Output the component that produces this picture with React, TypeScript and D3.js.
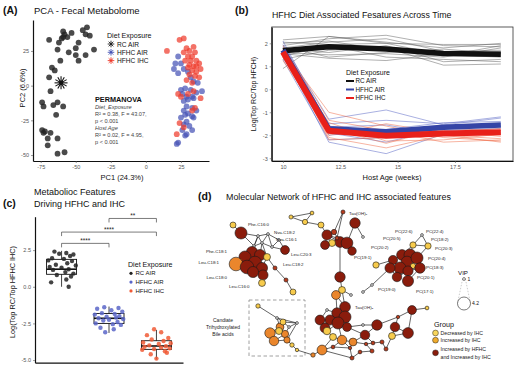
import React, { useEffect, useRef } from "react";
import * as d3 from "d3";

const FONT = "'Liberation Sans', Arial, Helvetica, sans-serif";

// ---------- (A) PCA scores ----------
const pcaRcAir = [
  [-42, 42], [-59, 39], [-58, 37], [-59, 35], [-53, 38], [-43, 37], [-40, 36], [-69, 33], [-60, 34], [-62, 31],
  [-48, 31], [-50, 27], [-37, 26], [-63, 26], [-55, 24], [-50, 22], [-43, 22], [-48, 18], [-61, 18], [-67, 13],
  [-65, 11], [-69, 6], [-68, -4], [-74, -12], [-73, -15], [-66, -14], [-63, -12], [-59, -15], [-64, -21], [-74, -32],
  [-73, -34], [-72, -33], [-68, -34], [-70, -38], [-63, -38], [-70, -43], [-63, -49], [-58, -48], [-56, 35], [-45, 40],
];
const pcaHfhcAir = [
  [23, 21], [21, 16], [25, 16], [20, 12], [23, 9], [27, 12], [30, 10], [32, 6], [34, 3], [37, 2],
  [28, -2], [25, -3], [32, -3], [26, -6], [29, -8], [33, -8], [40, -4], [36, -5], [27, -11], [30, -10],
  [34, -9], [29, -15], [33, -16], [36, -18], [27, -18], [30, -20], [28, -21], [33, -22], [25, -23], [29, -26],
  [34, -23], [27, -28], [31, -29], [26, -32], [33, -32], [29, -35], [28, -36], [23, -41], [22, -42],
];
const pcaHfhcIhc = [
  [24, 33], [27, 34], [15, 25], [29, 27], [34, 28], [31, 25], [27, 24], [35, 24], [33, 21], [30, 21],
  [28, 18], [32, 18], [36, 18], [38, 16], [34, 14], [30, 13], [33, 11], [36, 10], [39, 12], [31, 8],
  [35, 7], [38, 6], [29, 4], [33, 2], [23, -6], [25, -8], [30, -6], [34, -4], [39, -9], [35, -16],
  [33, -18], [24, -27], [27, -30], [22, -35], [36, 14], [31, 15],
];
const pcaRcCentroid = [-60.5, 2];
const pcaXTicks = [-75, -50, -25, 0, 25];
const pcaYTicks = [-50, -25, 0, 25];
const dietGroups = ["RC AIR", "HFHC AIR", "HFHC IHC"];
const permanovaLines = [
  { text: "Diet_Exposure", italic: true },
  { text: "R\u00b2 = 0.38, F = 43.07,", italic: false },
  { text: "p < 0.001", italic: false },
  { text: "Host Age", italic: true },
  { text: "R\u00b2 = 0.02, F = 4.95,", italic: false },
  { text: "p < 0.001", italic: false },
];

// ---------- (B) features across time ----------
const ageWeeks = [10, 12, 14.5, 17, 19.5];
const ageTicks = [10, 12.5, 15, 17.5];
const logTicks = [-3, -2, -1, 0, 1, 2];
const rcAirMean = [1.68, 1.85, 1.75, 1.56, 1.52];
const hfhcAirMean = [1.7, -1.72, -1.85, -1.65, -1.55];
const hfhcIhcMean = [1.62, -1.8, -2.02, -1.92, -1.87];
const rcAirFeatures = [
  [1.9, 2.2, 2.35, 1.9, 1.85],
  [1.8, 2.05, 2.2, 1.65, 1.7],
  [2.05, 1.95, 2.0, 1.95, 1.95],
  [1.6, 1.5, 1.55, 1.4, 1.8],
  [1.45, 1.9, 1.4, 1.3, 1.2],
  [0.9, 2.3, 2.0, 1.5, 1.4],
  [1.75, 1.6, 1.9, 1.2, 1.3],
  [2.15, 2.3, 2.05, 1.8, 2.0],
  [1.3, 1.7, 1.8, 1.05, 1.1],
  [1.85, 1.4, 1.6, 1.75, 1.55],
  [2.0, 2.1, 1.7, 1.45, 1.9],
  [1.55, 1.35, 1.25, 1.55, 1.65],
];
const hfhcAirFeatures = [
  [1.95, -1.3, -0.9, -1.55, -1.25],
  [1.55, -2.3, -2.8, -1.95, -1.8],
  [1.85, -1.5, -1.35, -1.5, -1.2],
  [1.7, -2.0, -1.75, -1.45, -1.4],
  [1.4, -1.9, -2.3, -1.7, -1.6],
  [2.1, -1.6, -1.95, -1.8, -1.7],
  [1.3, -2.2, -2.1, -1.6, -1.5],
  [1.8, -1.65, -1.55, -2.0, -1.9],
];
const hfhcIhcFeatures = [
  [1.7, -1.0, -1.6, -2.1, -2.25],
  [1.5, -2.1, -2.55, -2.0, -2.3],
  [1.6, -1.45, -2.25, -2.2, -1.95],
  [1.4, -1.9, -1.9, -1.8, -2.05],
  [1.8, -2.2, -2.1, -2.0, -2.15],
  [1.25, -1.7, -2.35, -1.7, -1.8],
  [1.9, -1.35, -1.8, -2.3, -2.2],
  [1.6, -2.0, -1.5, -1.9, -1.7],
];

// ---------- (C) driving features ----------
const boxTicks = [-5, -2.5, 0, 2.5];
const rcAirScores = [2.4, 2.3, 2.2, 2.25, 2.1, 1.95, 1.9, 1.8, 1.75, 1.6, 1.5, 1.45, 1.35, 1.3, 1.2, 1.15, 1.0, 0.9, 0.8, 0.7, 0.5, 0.3, 0.0];
const rcAirJitter = [-0.15, 0.1, 0.25, -0.05, 0.18, -0.2, 0.05, -0.28, 0.22, 0.12, -0.12, 0.3, -0.25, 0.0, 0.15, -0.18, 0.08, 0.25, -0.1, 0.2, 0.1, -0.22, 0.15];
const hfhcAirScores = [-1.4, -1.45, -1.5, -1.6, -1.7, -1.8, -1.85, -1.9, -2.0, -2.05, -2.1, -2.15, -2.2, -2.25, -2.3, -2.4, -2.5, -2.55, -2.6, -2.8, -2.9, -3.1];
const hfhcAirJitter = [-0.1, 0.2, -0.25, 0.05, 0.28, -0.15, 0.12, -0.3, 0.22, -0.05, 0.15, -0.22, 0.3, 0.0, -0.12, 0.18, -0.28, 0.08, 0.25, -0.18, 0.1, -0.08];
const hfhcIhcScores = [-2.9, -3.1, -3.3, -3.5, -3.6, -3.7, -3.8, -3.85, -3.9, -4.0, -4.05, -4.1, -4.15, -4.2, -4.25, -4.3, -4.4, -4.5, -4.6, -4.9];
const hfhcIhcJitter = [-0.05, 0.1, -0.2, 0.25, -0.1, 0.15, -0.28, 0.3, 0.05, -0.15, 0.2, -0.25, 0.1, 0.28, -0.05, -0.3, 0.18, 0.22, -0.12, 0.0];
const boxQ1 = [0.85, -2.5, -4.27];
const boxMedian = [1.2, -2.15, -4.04];
const boxQ3 = [1.87, -1.82, -3.68];
const whiskerLow = [0.0, -3.15, -4.95];
const whiskerHigh = [2.45, -1.35, -2.95];
const sigPairs = [
  { from: "RC AIR", to: "HFHC AIR", level: 2.96, label: "****" },
  { from: "RC AIR", to: "HFHC IHC", level: 3.73, label: "****" },
  { from: "HFHC AIR", to: "HFHC IHC", level: 4.66, label: "**" },
];

// ---------- (D) molecular network (layout units) ----------
const netGroups = ["dec", "inc", "both", "mix", "other"];
const netNodes = [
  ["L1", 33, 25, 2.0, "dec"], ["L2", 41, 33, 3.9, "both"], ["L3", 58, 36, 1, "other"], ["L4", 68, 34, 1, "other"],
  ["L5", 62, 43, 1, "other"], ["L6", 54, 46, 1, "other"], ["L7", 72, 47, 1, "other"], ["L8", 79, 40, 1, "other"],
  ["L9", 52, 52, 3.6, "both"], ["L10", 60, 55, 3.6, "both"], ["L11", 45, 57, 3.9, "both"], ["L12", 36, 64, 4.4, "inc"],
  ["L13", 55, 63, 4.4, "both"], ["L14", 47, 67, 4.4, "both"], ["L15", 62, 68, 3.6, "both"], ["L16", 63, 75, 3.3, "both"],
  ["L17", 53, 72, 3.6, "both"], ["L18", 67, 57, 2.3, "dec"], ["L19", 85, 50, 2.9, "both"], ["L20", 75, 68, 1.4, "mix"],
  ["L21", 86, 80, 1.4, "mix"], ["L22", 93, 92, 2.0, "dec"], ["L23", 62, 83, 2.3, "dec"],
  ["B1", 58, 106, 1.5, "dec"], ["B2", 70, 133, 3.4, "inc"], ["B3", 74, 141, 3.1, "inc"], ["B4", 80, 127, 2.6, "inc"],
  ["B5", 85, 134, 2.4, "inc"], ["B6", 83, 122, 2.0, "dec"], ["B7", 77, 118, 1, "other"], ["B8", 89, 127, 1, "other"],
  ["B9", 97, 123, 1, "other"], ["B10", 92, 145, 1.5, "dec"], ["B11", 87, 140, 2.1, "inc"], ["B12", 79, 131, 2.3, "dec"],
  ["B13", 97, 150, 1.2, "dec"],
  ["M1", 91, 17, 1.4, "dec"], ["M2", 112, 13, 1.3, "dec"], ["M3", 105, 22, 1.8, "dec"], ["M4", 121, 25, 2.0, "dec"],
  ["M5", 143, 12, 1.4, "mix"], ["M6", 155, 23, 3.4, "both"], ["M7", 127, 35, 3.3, "both"], ["M8", 134, 32, 1.8, "mix"],
  ["M9", 140, 42, 3.5, "both"], ["M10", 132, 43, 2.3, "dec"], ["M11", 125, 45, 2.9, "both"], ["M12", 147, 43, 3.8, "both"],
  ["M13", 152, 51, 2.8, "both"], ["M14", 163, 37, 1, "other"], ["M15", 137, 38, 1.3, "mix"],
  ["S1", 140, 77, 3.4, "both"], ["S2", 142, 90, 2.3, "dec"], ["S3", 136, 95, 2.9, "inc"], ["S4", 151, 95, 1, "other"],
  ["C1", 127, 110, 1, "other"], ["C2", 145, 107, 3.5, "both"], ["C3", 137, 113, 3.4, "both"], ["C4", 145, 117, 3.9, "both"],
  ["C5", 130, 120, 3.3, "both"], ["C6", 120, 120, 3.2, "both"], ["C7", 138, 123, 3.9, "both"], ["C8", 125, 128, 3.2, "both"],
  ["C9", 147, 127, 2.9, "both"], ["C10", 127, 131, 2.5, "dec"], ["C11", 163, 125, 1, "other"], ["C12", 177, 125, 3.4, "both"],
  ["C13", 165, 135, 3.1, "both"], ["C14", 153, 142, 2.6, "inc"], ["C15", 142, 140, 3.1, "inc"], ["C16", 150, 148, 1.2, "mix"],
  ["C17", 122, 150, 3.2, "inc"], ["C18", 113, 155, 1.5, "inc"], ["C19", 133, 147, 1.3, "mix"], ["C20", 173, 143, 1.3, "mix"],
  ["C21", 182, 142, 1.4, "mix"], ["C22", 152, 158, 1.4, "mix"], ["C23", 133, 137, 2.3, "dec"], ["C24", 160, 152, 1.3, "mix"],
  ["C25", 172, 151, 1.4, "mix"], ["C26", 166, 144, 1.2, "mix"],
  ["P1", 213, 45, 2.1, "dec"], ["P2", 222, 35, 1, "other"], ["P3", 228, 46, 2.1, "dec"], ["P4", 202, 55, 3.5, "both"],
  ["P5", 210, 55, 3.9, "both"], ["P6", 207, 62, 3.8, "both"], ["P7", 217, 58, 3.9, "both"], ["P8", 193, 60, 3.0, "both"],
  ["P9", 213, 66, 1.8, "dec"], ["P10", 200, 68, 3.9, "both"], ["P11", 190, 68, 3.3, "both"], ["P12", 208, 71, 3.3, "both"],
  ["P13", 208, 81, 3.6, "both"], ["P14", 176, 65, 2.1, "dec"], ["P15", 172, 85, 1, "other"], ["P16", 163, 92, 1, "other"],
  ["P17", 197, 77, 3.1, "both"], ["P18", 220, 68, 3.4, "both"],
  ["R1", 212, 110, 2.9, "both"], ["R2", 227, 108, 1.3, "dec"], ["R3", 198, 117, 1.2, "mix"], ["R4", 195, 127, 3.1, "both"],
  ["R5", 192, 136, 2.3, "dec"], ["R6", 208, 133, 3.5, "both"], ["R7", 186, 149, 1.4, "mix"],
];
const netEdges = [
  "L1-L2", "L2-L3", "L2-L6", "L3-L4", "L3-L5", "L3-L6", "L4-L5", "L4-L8", "L5-L6", "L5-L7", "L7-L8", "L4-L7", "L6-L9",
  "L5-L10", "L8-L19", "L7-L19", "L5-L18", "L9-L10", "L9-L11", "L9-L13", "L10-L13", "L10-L18", "L11-L12", "L11-L14",
  "L12-L14", "L13-L14", "L13-L15", "L14-L17", "L15-L16", "L16-L17", "L15-L18", "L13-L17", "L18-L20", "L20-L21",
  "L21-L22", "L16-L23", "L6-L11", "L3-L9",
  "B1-B7", "B7-B6", "B7-B4", "B7-B9", "B6-B8", "B8-B9", "B6-B12", "B12-B4", "B12-B5", "B4-B2", "B4-B5", "B2-B3",
  "B3-B5", "B5-B11", "B11-B10", "B8-B5", "B9-B11", "B2-B12", "B3-B11", "B10-B13", "B6-B9",
  "M1-M2", "M1-M3", "M2-M3", "M3-M4", "M4-M7", "M5-M8", "M7-M8", "M7-M9", "M7-M11", "M8-M9", "M9-M10", "M9-M12",
  "M10-M11", "M12-M13", "M6-M12", "M6-M14", "M15-M7", "M15-M12", "M9-M13", "M5-M15",
  "M9-S1", "S1-S2", "S2-S3", "S2-S4",
  "S3-C2", "S3-C3", "S2-C2", "C1-C3", "C1-C6", "C2-C4", "C2-C3", "C3-C4", "C3-C5", "C4-C7", "C5-C6", "C5-C7", "C5-C8",
  "C6-C8", "C7-C9", "C8-C10", "C7-C10", "C4-C9", "C9-C11", "C11-C12", "C9-C13", "C12-C13", "C13-C14", "C14-C15",
  "C15-C7", "C15-C16", "C14-C16", "C10-C23", "C23-C17", "C17-C18", "C17-C19", "C19-C16", "C15-C19", "C13-C20",
  "C20-C21", "C16-C22", "C22-C24", "C24-C25", "C25-C26", "C26-C20", "C14-C26", "C18-B13", "C17-C22", "C23-C15",
  "P1-P2", "P2-P3", "P1-P3", "P1-P5", "P3-P7", "P4-P5", "P5-P7", "P5-P6", "P6-P7", "P4-P8", "P4-P6", "P8-P11",
  "P6-P10", "P10-P11", "P10-P12", "P12-P13", "P6-P9", "P9-P18", "P7-P18", "P12-P17", "P17-P10", "P13-P18",
  "P14-P8", "P15-P16", "P15-P11", "P1-P4", "P12-P18", "P11-P17",
  "R1-R2", "R1-R3", "R3-R4", "R4-R5", "R4-R6", "R5-R6", "R5-R7", "R7-C21", "R6-R1", "C12-R3",
];
const netLabels = [
  ["Phe-C16:0", 48, 24, "start"], ["Nva-C18:2", 74, 32, "start"], ["Nva-C16:1", 76, 39, "start"],
  ["Phe-C18:1", 27, 51, "end"], ["Leu-C20:3", 91, 54, "start"], ["Leu-C18:1", 19, 62, "end"],
  ["Leu-C18:2", 83, 64, "start"], ["Leu-C18:0", 27, 77, "end"], ["Leu-C16:0", 29, 86, "start"],
  ["Tau(OH)\u2082", 149, 13, "start"], ["PC(22:6)", 195, 31, "start"], ["PC(22:4)", 226, 31, "start"],
  ["PC(20:5)", 183, 38, "start"], ["PC(18:2)", 231, 39, "start"], ["PC(20:2)", 171, 47, "start"],
  ["PC(20:3)", 235, 48, "start"], ["PC(19:1)", 154, 57, "start"], ["PC(20:4)", 228, 58, "start"],
  ["PC(18:3)", 226, 67, "start"], ["PC(20:1)", 217, 77, "start"], ["PC(19:0)", 178, 89, "start"],
  ["PC(17:1)", 216, 91, "start"], ["Tau(OH)\u2083", 155, 107, "start"],
];
const baLabel = ["Candiate", "Trihydroxylated", "Bile acids"];
const groupLabels = [["Decreased by IHC"], ["Increased by IHC"], ["Increased by HFHC", "and Increased by IHC"]];
const vipRange = [1, 4.2];

const dietColor = d3.scaleOrdinal<string, string>().domain(dietGroups).range(["#222222", "#4653b5", "#ef3b2c"]);
const netColor = d3
  .scaleOrdinal<string, string>()
  .domain(netGroups)
  .range(["#f7cb4c", "#ea862c", "#8a1c0c", "#b53a1c", "#dcdcdc"]);

function App() {
  const ref = useRef<SVGSVGElement>(null);

  useEffect(() => {
    const svg = d3.select(ref.current);
    svg.selectAll("*").remove();
    svg.append("rect").attr("width", 518).attr("height", 373).attr("fill", "white");

    const txt = (x: number, y: number, s: string, size: number, opts: any = {}) =>
      svg
        .append("text")
        .attr("x", x)
        .attr("y", y)
        .attr("font-family", FONT)
        .attr("font-size", size)
        .attr("font-weight", opts.bold ? "bold" : "normal")
        .attr("font-style", opts.italic ? "italic" : "normal")
        .attr("fill", opts.fill || "#111")
        .attr("text-anchor", opts.anchor || "start")
        .text(s);

    const vtxt = (x: number, y: number, s: string, size: number) =>
      svg
        .append("text")
        .attr("transform", `translate(${x},${y}) rotate(-90)`)
        .attr("font-family", FONT)
        .attr("font-size", size)
        .attr("fill", "#111")
        .attr("text-anchor", "middle")
        .text(s);

    const styleAxis = (g: any, fs = 5.5) => {
      g.selectAll("text").attr("font-family", FONT).attr("font-size", fs).attr("fill", "#555");
      g.selectAll(".tick line").attr("stroke", "#555").attr("stroke-width", 0.6);
      g.select(".domain").attr("stroke", "#111").attr("stroke-width", 1.2);
    };

    const star = (cx: number, cy: number, r: number, n: number, color: string, w: number) => {
      const g = svg.append("g").attr("transform", `translate(${cx},${cy})`);
      d3.range(n).forEach((k) => {
        const a = (k * Math.PI) / n;
        g.append("line")
          .attr("x1", -r * Math.cos(a)).attr("y1", -r * Math.sin(a))
          .attr("x2", r * Math.cos(a)).attr("y2", r * Math.sin(a))
          .attr("stroke", color).attr("stroke-width", w);
      });
      g.append("circle").attr("r", r * 0.35).attr("fill", color);
    };

    // ===== (A) =====
    txt(3, 14, "(A)", 10.5, { bold: true });
    txt(34, 14, "PCA - Fecal Metabolome", 9.5);
    const ax = d3.scaleLinear().domain([-80.5, 45]).range([33, 209]);
    const ay = d3.scaleLinear().domain([-54.3, 47.3]).range([161, 20]);
    const gA = svg.append("g");
    const axA = gA.append("g").attr("transform", "translate(0,161)")
      .call(d3.axisBottom(ax).tickValues(pcaXTicks).tickSize(2).tickSizeOuter(0).tickPadding(2).tickFormat((d: any) => String(d)));
    styleAxis(axA);
    const ayA = gA.append("g").attr("transform", "translate(33,0)")
      .call(d3.axisLeft(ay).tickValues(pcaYTicks).tickSize(2).tickSizeOuter(0).tickPadding(2).tickFormat((d: any) => String(d)));
    styleAxis(ayA);
    txt(122, 180, "PC1 (24.3%)", 7.5, { anchor: "middle" });
    vtxt(25, 88, "PC2 (6.6%)", 7.5);

    [
      { pts: pcaRcAir, g: "RC AIR" },
      { pts: pcaHfhcAir, g: "HFHC AIR" },
      { pts: pcaHfhcIhc, g: "HFHC IHC" },
    ].forEach(({ pts, g }) => {
      gA.append("g").selectAll("circle").data(pts).enter().append("circle")
        .attr("cx", (d) => ax(d[0])).attr("cy", (d) => ay(d[1])).attr("r", 2.9)
        .attr("fill", dietColor(g)).attr("fill-opacity", g === "RC AIR" ? 0.82 : 0.72);
    });
    star(ax(pcaRcCentroid[0]), ay(pcaRcCentroid[1]), 6.5, 6, "#111", 1.1);

    txt(107, 38, "Diet Exposure", 7.1);
    dietGroups.forEach((g, i) => {
      star(111, 44 + i * 8.3, 3.3, 4, dietColor(g), 0.9);
      txt(117, 46.5 + i * 8.3, g, 6.6);
    });
    txt(95, 101.5, "PERMANOVA", 7.3, { bold: true });
    permanovaLines.forEach((l, i) => {
      txt(95, 108.5 + i * 7, l.text, 5.6, { italic: l.italic, fill: "#444" });
    });

    // ===== (B) =====
    txt(235, 14, "(b)", 10.5, { bold: true });
    txt(272, 18, "HFHC Diet Associated Fesatures Across Time", 8.8);
    const bx = d3.scaleLinear().domain([9.51, 20.03]).range([271.7, 513]);
    const by = d3.scaleLinear().domain([-3.12, 2.71]).range([161, 27]);
    svg.append("rect").attr("x", 271.7).attr("y", 27).attr("width", 513 - 271.7).attr("height", 134)
      .attr("fill", "none").attr("stroke", "#333").attr("stroke-width", 0.8);
    const line = d3.line<number>().x((_, i) => bx(ageWeeks[i])).y((d) => by(d));
    const gB = svg.append("g");
    rcAirFeatures.forEach((f) => gB.append("path").attr("d", line(f)).attr("fill", "none").attr("stroke", "#555").attr("stroke-width", 0.55).attr("opacity", 0.85));
    hfhcAirFeatures.forEach((f) => gB.append("path").attr("d", line(f)).attr("fill", "none").attr("stroke", "#5563c4").attr("stroke-width", 0.6).attr("opacity", 0.85));
    hfhcIhcFeatures.forEach((f) => gB.append("path").attr("d", line(f)).attr("fill", "none").attr("stroke", "#f06a48").attr("stroke-width", 0.6).attr("opacity", 0.85));
    gB.append("path").attr("d", line(rcAirMean)).attr("fill", "none").attr("stroke", "#111").attr("stroke-width", 5.5).attr("stroke-linejoin", "round");
    gB.append("path").attr("d", line(hfhcAirMean)).attr("fill", "none").attr("stroke", "#3444a6").attr("stroke-width", 5.5).attr("stroke-linejoin", "round");
    gB.append("path").attr("d", line(hfhcIhcMean)).attr("fill", "none").attr("stroke", "#e8201a").attr("stroke-width", 6).attr("stroke-linejoin", "round");
    const bxA = svg.append("g").attr("transform", "translate(0,161)")
      .call(d3.axisBottom(bx).tickValues(ageTicks).tickSize(2).tickSizeOuter(0).tickPadding(2).tickFormat((d: any) => String(d)));
    styleAxis(bxA);
    const byA = svg.append("g").attr("transform", "translate(271.7,0)")
      .call(d3.axisLeft(by).tickValues(logTicks).tickSize(2).tickSizeOuter(0).tickPadding(2).tickFormat((d: any) => String(d)));
    styleAxis(byA);
    txt(392, 180, "Host Age (weeks)", 7.5, { anchor: "middle" });
    vtxt(256, 94, "Log(Top RC/Top HFCH)", 7);
    txt(346, 75, "Diet Exposure", 7);
    dietGroups.forEach((g, i) => {
      svg.append("line").attr("x1", 346).attr("x2", 354).attr("y1", 81 + i * 8.5).attr("y2", 81 + i * 8.5)
        .attr("stroke", i === 0 ? "#111" : i === 1 ? "#3444a6" : "#e8201a").attr("stroke-width", 2);
      txt(355.5, 83.3 + i * 8.5, g, 6.3);
    });

    // ===== (C) =====
    txt(3, 207, "(c)", 10.5, { bold: true });
    txt(34, 195, "Metabolioc Features", 9);
    txt(34, 206.5, "Driving HFHC and IHC", 9);
    const cx = d3.scalePoint<string>().domain(dietGroups).range([35, 183]).padding(0.56);
    const cy = d3.scaleLinear().domain([-5.18, 4.78]).range([362.7, 216.7]);
    const step = cx.step();
    const gC = svg.append("g");
    const bw = 30;
    dietGroups.forEach((g, i) => {
      const x0 = cx(g) as number;
      gC.append("line").attr("x1", x0).attr("x2", x0).attr("y1", cy(whiskerLow[i])).attr("y2", cy(whiskerHigh[i])).attr("stroke", "#111").attr("stroke-width", 0.8);
      gC.append("rect").attr("x", x0 - bw / 2).attr("width", bw).attr("y", cy(boxQ3[i])).attr("height", cy(boxQ1[i]) - cy(boxQ3[i]))
        .attr("fill", "white").attr("stroke", "#111").attr("stroke-width", 0.9);
      gC.append("line").attr("x1", x0 - bw / 2).attr("x2", x0 + bw / 2).attr("y1", cy(boxMedian[i])).attr("y2", cy(boxMedian[i])).attr("stroke", "#111").attr("stroke-width", 1.6);
    });
    [
      { v: rcAirScores, j: rcAirJitter, g: "RC AIR", c: "#222" },
      { v: hfhcAirScores, j: hfhcAirJitter, g: "HFHC AIR", c: "#5a66c8" },
      { v: hfhcIhcScores, j: hfhcIhcJitter, g: "HFHC IHC", c: "#f05a36" },
    ].forEach(({ v, j, g, c }) => {
      gC.append("g").selectAll("circle").data(v).enter().append("circle")
        .attr("cx", (d, i) => (cx(g) as number) + j[i] * step).attr("cy", (d) => cy(d)).attr("r", 2.2)
        .attr("fill", c).attr("fill-opacity", 0.85);
    });
    sigPairs.forEach((p) => {
      const x1 = cx(p.from) as number;
      const x2 = cx(p.to) as number;
      const y = cy(p.level);
      gC.append("path").attr("d", `M${x1},${y + 4}V${y}H${x2}V${y + 4}`).attr("fill", "none").attr("stroke", "#444").attr("stroke-width", 0.7);
      txt((x1 + x2) / 2, y - 0.5, p.label, 6.5, { anchor: "middle", fill: "#222" });
    });
    const cyA = svg.append("g").attr("transform", "translate(35,0)")
      .call(d3.axisLeft(cy).tickValues(boxTicks).tickSize(2).tickSizeOuter(0).tickPadding(2).tickFormat((d: any) => (+d).toFixed(1)));
    styleAxis(cyA);
    const cxA = svg.append("g").attr("transform", "translate(0,362.7)")
      .call(d3.axisBottom(cx).tickSize(0).tickSizeOuter(0).tickFormat(() => ""));
    styleAxis(cxA);
    vtxt(15, 292, "Log(Top RC/Top HFHC IHC)", 7.3);
    txt(128, 266.5, "Diet Exposure", 7.1);
    dietGroups.forEach((g, i) => {
      svg.append("circle").attr("cx", 131).attr("cy", 273.3 + i * 8.8).attr("r", 1.6)
        .attr("fill", i === 0 ? "#222" : i === 1 ? "#5a66c8" : "#f05a36");
      txt(135.5, 275.4 + i * 8.8, g, 6);
    });

    // ===== (D) =====
    txt(198, 200, "(d)", 10.5, { bold: true });
    txt(226, 200, "Molecular Network of HFHC and IHC associated features", 8.9);
    const nx = d3.scaleLinear().domain([0, 320]).range([200, 520]);
    const ny = d3.scaleLinear().domain([0, 173]).range([200, 373]);
    const nr = d3.scaleLinear().domain(vipRange).range([1.4, 6.5]);
    const byId = new Map(netNodes.map((n) => [n[0] as string, n]));

    // dashed box around candidate bile acids (layout units)
    svg.append("rect").attr("x", nx(49)).attr("y", ny(100)).attr("width", nx(105) - nx(49)).attr("height", ny(156) - ny(100))
      .attr("fill", "none").attr("stroke", "#888").attr("stroke-width", 0.8).attr("stroke-dasharray", "3.5,2.5");
    baLabel.forEach((s, i) => txt(nx(23), ny(121.5) + i * 7.4, s, 5, { anchor: "middle", fill: "#222" }));

    const gD = svg.append("g");
    netEdges.forEach((e) => {
      const [a, b] = e.split("-").map((id) => byId.get(id)!);
      gD.append("line").attr("x1", nx(a[1] as number)).attr("y1", ny(a[2] as number))
        .attr("x2", nx(b[1] as number)).attr("y2", ny(b[2] as number))
        .attr("stroke", "#222").attr("stroke-width", 0.7);
    });
    gD.append("g").selectAll("circle").data(netNodes).enter().append("circle")
      .attr("cx", (d) => nx(d[1] as number)).attr("cy", (d) => ny(d[2] as number))
      .attr("r", (d) => nr(d[3] as number))
      .attr("fill", (d) => netColor(d[4] as string)).attr("stroke", "#1a1a1a").attr("stroke-width", 0.6);
    netLabels.forEach((l) => {
      txt(nx(l[1] as number), ny(l[2] as number) + 1.5, l[0] as string, 4.4, { anchor: l[3] as string, fill: "#222" });
    });

    // VIP legend
    txt(463, 275, "VIP", 6.2, { anchor: "middle" });
    const vSmall = ny(79);
    const vBig = ny(103.5);
    svg.append("line").attr("x1", 464 - nr(1)).attr("y1", vSmall).attr("x2", 464 - nr(4.2)).attr("y2", vBig).attr("stroke", "#999").attr("stroke-width", 0.5).attr("stroke-dasharray", "1.5,1.5");
    svg.append("line").attr("x1", 464 + nr(1)).attr("y1", vSmall).attr("x2", 464 + nr(4.2)).attr("y2", vBig).attr("stroke", "#999").attr("stroke-width", 0.5).attr("stroke-dasharray", "1.5,1.5");
    svg.append("circle").attr("cx", 464).attr("cy", vSmall).attr("r", nr(1)).attr("fill", "white").attr("stroke", "#222").attr("stroke-width", 0.6);
    svg.append("circle").attr("cx", 464).attr("cy", vBig).attr("r", nr(4.2)).attr("fill", "white").attr("stroke", "#222").attr("stroke-width", 0.6);
    txt(467.5, vSmall + 1.8, "1", 5);
    txt(472, vBig + 1.8, "4.2", 5);

    // Group legend
    txt(434, 326.5, "Group", 7.2);
    const legendColors = ["#f8d65c", "#f0ac2e", "#8a1c0c"];
    const legendY = [333, 340.2, 352.8];
    groupLabels.forEach((lines, i) => {
      svg.append("circle").attr("cx", 435.5).attr("cy", legendY[i]).attr("r", 2.9)
        .attr("fill", legendColors[i]).attr("stroke", "#222").attr("stroke-width", 0.5);
      lines.forEach((s, k) => {
        const y0 = lines.length > 1 ? legendY[i] - 4 + k * 8 : legendY[i];
        txt(440.5, y0 + 1.8, s, 5.2, { fill: "#222" });
      });
    });
  }, []);

  return (
    <svg
      ref={ref}
      width={518}
      height={373}
      style={{ position: "absolute", left: 0, top: 0, display: "block" }}
    />
  );
}

export default App;
